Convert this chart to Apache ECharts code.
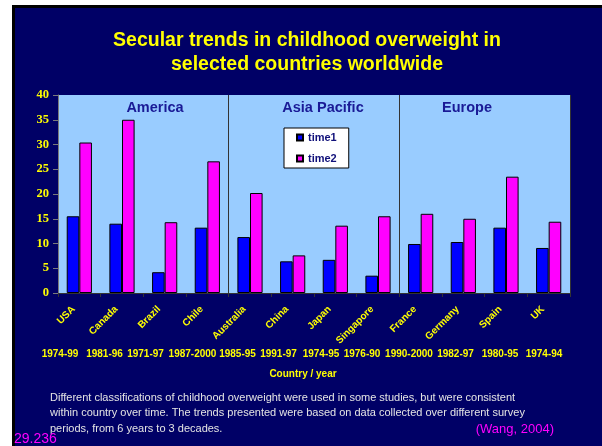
<!DOCTYPE html>
<html>
<head>
<meta charset="utf-8">
<script src="https://cdn.jsdelivr.net/npm/echarts@6/dist/echarts.min.js"></script>
<style>
  html, body { margin: 0; padding: 0; background: #ffffff; }
  #chart { width: 602px; height: 446px; }
</style>
</head>
<body>
<div id="chart"></div>
<script>
// Childhood overweight prevalence (%) at the start (time1) and end (time2) of each survey period
const countries = ['USA', 'Canada', 'Brazil', 'Chile', 'Australia', 'China', 'Japan', 'Singapore', 'France', 'Germany', 'Spain', 'UK'];
const periods = ['1974-99', '1981-96', '1971-97', '1987-2000', '1985-95', '1991-97', '1974-95', '1976-90', '1990-2000', '1982-97', '1980-95', '1974-94'];
const time1 = [15.5, 14.0, 4.2, 13.2, 11.3, 6.4, 6.7, 3.5, 9.9, 10.3, 13.2, 9.1];
const time2 = [30.4, 35.0, 14.3, 26.6, 20.2, 7.6, 13.6, 15.5, 16.0, 15.0, 23.5, 14.4];
const regions = ['America', 'Asia Pacific', 'Europe'];
const regionStarts = [0, 4, 8];
const yTicks = { min: 0, max: 40, step: 5 };

const titleText = 'Secular trends in childhood overweight in\nselected countries worldwide';
const noteLines = [
  'Different classifications of childhood overweight were used in some studies, but were consistent',
  'within country over time. The trends presented were based on data collected over different survey',
  'periods, from 6 years to 3 decades.'
];
const sourceText = '(Wang, 2004)';
const slideNo = '29.236';

// Layout (pixels)
const YEAR_X = [60, 104.5, 145.5, 192.5, 237.5, 278.5, 321, 362, 409, 455.5, 500, 544];
const REGION_X = [155, 323, 467];
const YELLOW = '#ffff00';
const NAVY = '#000066';
const SANS = '"Liberation Sans", Arial, sans-serif';

const chart = echarts.init(document.getElementById('chart'), null, { renderer: 'canvas' });

const graphics = [
  // slide panel with its dark edge
  { type: 'rect', z: -10, shape: { x: 12, y: 5, width: 590, height: 441 }, style: { fill: '#000000' } },
  { type: 'rect', z: -9, shape: { x: 15, y: 8, width: 587, height: 438 }, style: { fill: NAVY } }
];

regions.forEach((r, i) => {
  graphics.push({
    type: 'text', z: 10, x: REGION_X[i], y: 108,
    style: { text: r, fill: '#1a1a96', font: 'bold 14.5px ' + SANS, textAlign: 'center', textVerticalAlign: 'middle' }
  });
});

periods.forEach((p, i) => {
  graphics.push({
    type: 'text', x: YEAR_X[i], y: 354,
    style: { text: p, fill: YELLOW, font: 'bold 10px ' + SANS, textAlign: 'center', textVerticalAlign: 'middle' }
  });
});

graphics.push({
  type: 'text', x: 303, y: 374,
  style: { text: 'Country / year', fill: YELLOW, font: 'bold 10px ' + SANS, textAlign: 'center', textVerticalAlign: 'middle' }
});

noteLines.forEach((line, i) => {
  graphics.push({
    type: 'text', x: 50, y: 398 + i * 15.4,
    style: { text: line, fill: '#e4e4e4', font: '11px ' + SANS, textAlign: 'left', textVerticalAlign: 'middle' }
  });
});

graphics.push({
  type: 'text', x: 554, y: 429,
  style: { text: sourceText, fill: '#ff00ff', font: '13px ' + SANS, textAlign: 'right', textVerticalAlign: 'middle' }
});
graphics.push({
  type: 'text', x: 14, y: 439,
  style: { text: slideNo, fill: '#ff00ff', font: '14px ' + SANS, textAlign: 'left', textVerticalAlign: 'middle' }
});

const option = {
  backgroundColor: '#ffffff',
  animation: false,
  title: {
    text: titleText,
    left: 307,
    top: 29,
    padding: 0,
    textAlign: 'center',
    textStyle: { color: YELLOW, fontFamily: SANS, fontWeight: 'bold', fontSize: 19.5, lineHeight: 23.5 }
  },
  legend: {
    orient: 'vertical',
    left: 284,
    top: 128,
    padding: [4, 12, 4, 12],
    itemGap: 10,
    itemWidth: 6,
    itemHeight: 6,
    backgroundColor: '#ffffff',
    borderColor: '#000000',
    borderWidth: 1,
    icon: 'rect',
    textStyle: { color: '#10107a', fontFamily: SANS, fontWeight: 'bold', fontSize: 11 },
    data: ['time1', 'time2']
  },
  grid: {
    left: 58, right: 32, top: 95, bottom: 153,
    show: true,
    backgroundColor: '#99ccff',
    borderWidth: 0
  },
  xAxis: {
    type: 'category',
    data: countries,
    boundaryGap: true,
    axisLine: { show: true, lineStyle: { color: '#333333', width: 1 } },
    axisTick: { show: true, interval: 0, length: 4, lineStyle: { color: '#333333' } },
    axisLabel: {
      interval: 0,
      rotate: 45,
      margin: 9,
      padding: [0, 8, 0, 0],
      color: YELLOW,
      fontFamily: SANS,
      fontWeight: 'bold',
      fontSize: 10
    },
    splitLine: {
      show: true,
      interval: (index) => regionStarts.indexOf(index) > 0,
      lineStyle: { color: '#333333', width: 1 }
    }
  },
  yAxis: {
    type: 'value',
    min: yTicks.min,
    max: yTicks.max,
    interval: yTicks.step,
    axisLine: { show: true, lineStyle: { color: '#7a7a7a', width: 1 } },
    axisTick: { show: true, length: 5, lineStyle: { color: '#7a7a7a' } },
    axisLabel: {
      margin: 9,
      color: YELLOW,
      fontFamily: '"Liberation Serif", "Times New Roman", serif',
      fontWeight: 'bold',
      fontSize: 12.5
    },
    splitLine: { show: false }
  },
  series: [
    {
      name: 'time1',
      type: 'bar',
      data: time1,
      barWidth: 12.6,
      barGap: '0%',
      itemStyle: { color: '#0000ff', borderColor: '#000000', borderWidth: 1 }
    },
    {
      name: 'time2',
      type: 'bar',
      data: time2,
      barWidth: 12.6,
      barGap: '0%',
      itemStyle: { color: '#ff00ff', borderColor: '#000000', borderWidth: 1 }
    }
  ],
  graphic: graphics
};

chart.setOption(option);
</script>
</body>
</html>
